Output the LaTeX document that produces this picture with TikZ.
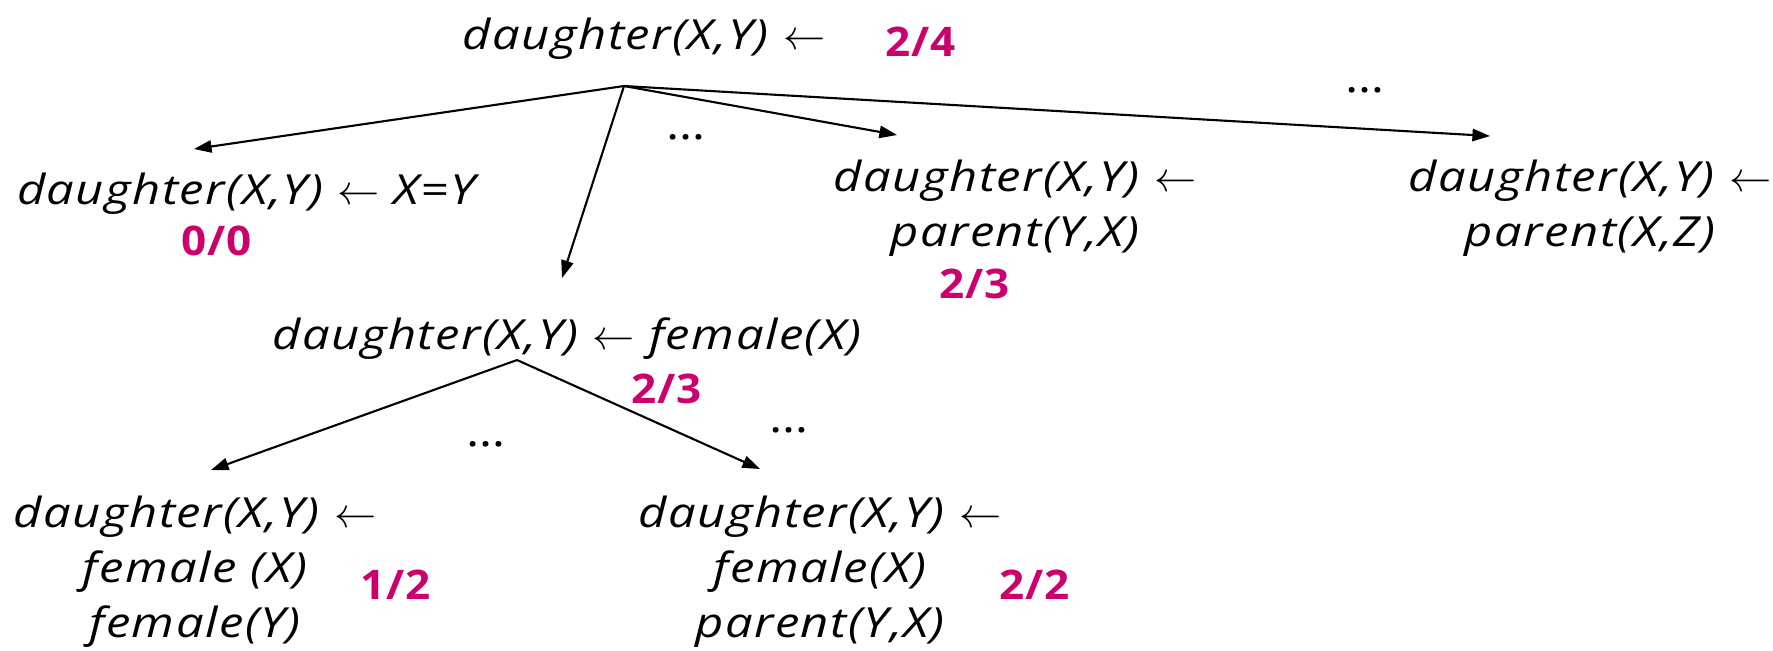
\documentclass[tikz,border=0pt]{standalone}
\usepackage{fontspec}
\setmainfont{Open Sans}[FakeStretch=1.18,LetterSpace=3.6]
\newfontfamily\scorefont{Open Sans}[FakeStretch=1.08,LetterSpace=2]
\usetikzlibrary{arrows.meta}
\definecolor{score}{RGB}{204,0,108}
\begin{document}
\begin{tikzpicture}[x=0.01cm,y=-0.01cm,
  clause/.style={font=\fontsize{11.8}{15.65}\selectfont\itshape, align=center, inner sep=0pt},
  scorelbl/.style={font=\scorefont\fontsize{11.6}{13}\selectfont\bfseries, text=score, inner sep=0pt},
  dots/.style={font=\fontsize{12}{14}\selectfont, inner sep=0pt},
  edge/.style={line width=0.6pt, -{Triangle[length=5pt,width=3.5pt]}}]
\useasboundingbox (0,0) rectangle (1773,650);
% clauses
\node[clause] (top) at (644,39) {daughter(X,Y) $\leftarrow$};
\node[scorelbl] (s0) at (921,42) {2/4};
\node[clause] (l1) at (246,194) {daughter(X,Y) $\leftarrow$ X=Y};
\node[scorelbl] (s1) at (217,241) {0/0};
\node[clause] (m) at (1015,208) {daughter(X,Y) $\leftarrow$\\parent(Y,X)};
\node[scorelbl] (s2) at (975,284) {2/3};
\node[clause] (r) at (1590,208) {daughter(X,Y) $\leftarrow$\\parent(X,Z)};
\node[clause] (f) at (567,339) {daughter(X,Y) $\leftarrow$ female(X)};
\node[scorelbl] (s3) at (667,389) {2/3};
\node[clause] (bl) at (195,572) {daughter(X,Y) $\leftarrow$\\female (X)\\female(Y)};
\node[scorelbl] (s4) at (396,585) {1/2};
\node[clause] (br) at (820,572) {daughter(X,Y) $\leftarrow$\\female(X)\\parent(Y,X)};
\node[scorelbl] (s5) at (1035,585) {2/2};
% dots
\node[dots] (d1) at (686,137) {\dots};
\node[dots] (d2) at (1365,90) {\dots};
\node[dots] (d3) at (486,444) {\dots};
\node[dots] (d4) at (789,430) {\dots};
% branch points and tips
\coordinate (b1) at (624,86);
\coordinate (b2) at (517,360);
\coordinate (t1) at (194,149);
\coordinate (t2) at (562,278);
\coordinate (t3) at (897,135);
\coordinate (t4) at (1490,136);
\coordinate (t5) at (211,470);
\coordinate (t6) at (760,469);
\draw[edge] (b1) -- (t1);
\draw[edge] (b1) -- (t2);
\draw[edge] (b1) -- (t3);
\draw[edge] (b1) -- (t4);
\draw[edge] (b2) -- (t5);
\draw[edge] (b2) -- (t6);
\end{tikzpicture}
\end{document}
